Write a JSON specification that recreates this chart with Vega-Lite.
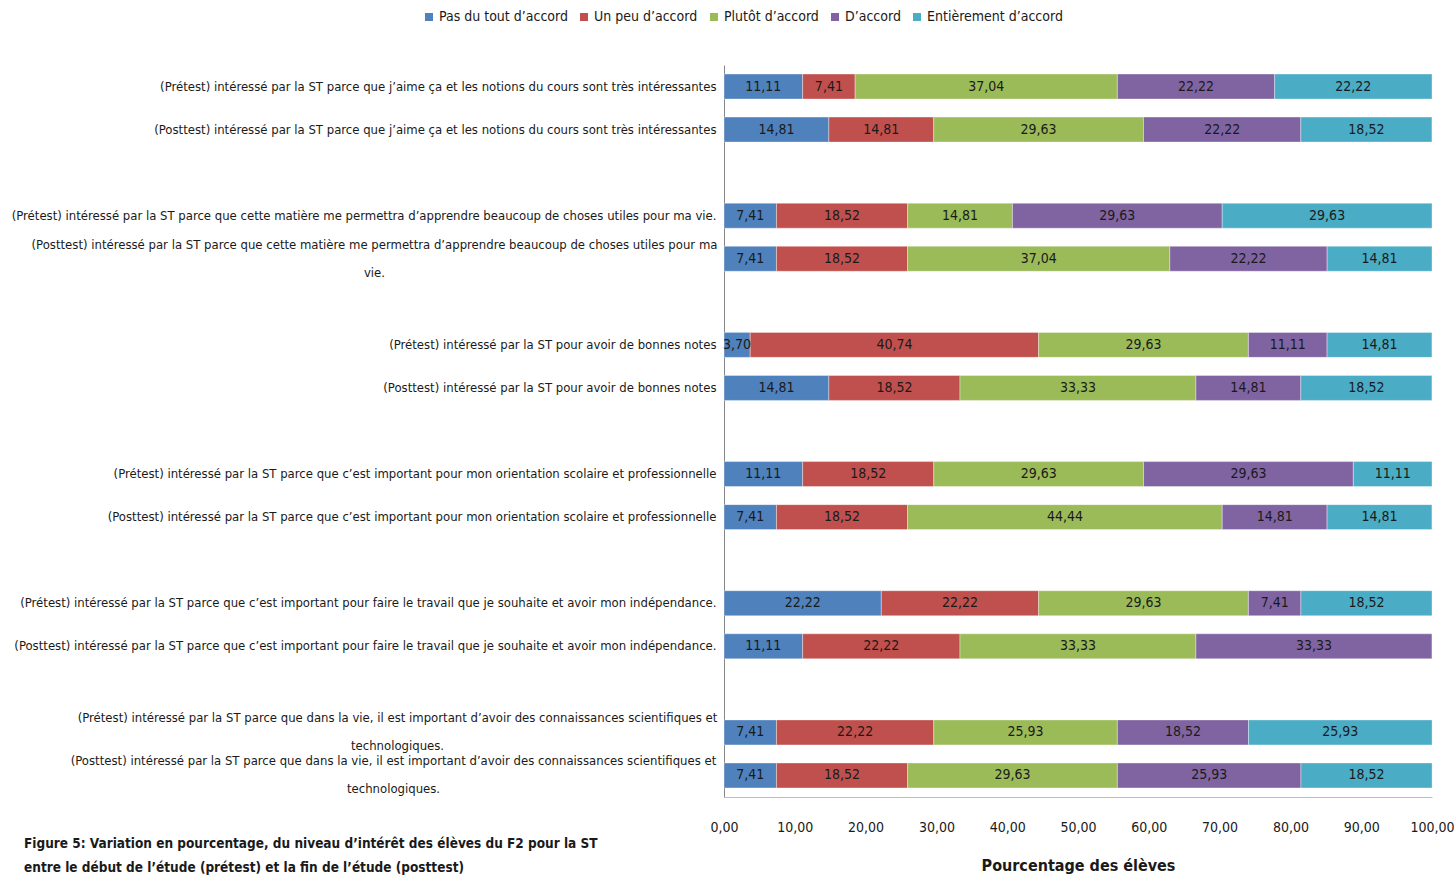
{
  "$schema": "https://vega.github.io/schema/vega-lite/v6.json",
  "width": 708,
  "height": 732,
  "autosize": {"type": "none"},
  "padding": {"left": 724, "top": 65, "right": 22, "bottom": 81},
  "background": "white",
  "title": {
    "text": ["Figure 5: Variation en pourcentage, du niveau d’intérêt des élèves du F2 pour la ST", "entre le début de l’étude (prétest) et la fin de l’étude (posttest)"],
    "orient": "bottom",
    "anchor": "start",
    "frame": "group",
    "dx": -700,
    "dy": -40,
    "font": "DejaVu Sans Condensed",
    "fontSize": 13.5,
    "fontWeight": "bold",
    "color": "#1a1a1a",
    "lineHeight": 24
  },
  "data": {
    "values": [
      {"q": "(Prétest) intéressé par la ST parce que j’aime ça et les notions du cours sont très intéressantes", "c": "Pas du tout d’accord", "n": 1, "v": 11.11},
      {"q": "(Prétest) intéressé par la ST parce que j’aime ça et les notions du cours sont très intéressantes", "c": "Un peu d’accord", "n": 2, "v": 7.41},
      {"q": "(Prétest) intéressé par la ST parce que j’aime ça et les notions du cours sont très intéressantes", "c": "Plutôt d’accord", "n": 3, "v": 37.04},
      {"q": "(Prétest) intéressé par la ST parce que j’aime ça et les notions du cours sont très intéressantes", "c": "D’accord", "n": 4, "v": 22.22},
      {"q": "(Prétest) intéressé par la ST parce que j’aime ça et les notions du cours sont très intéressantes", "c": "Entièrement d’accord", "n": 5, "v": 22.22},
      {"q": "(Posttest) intéressé par la ST parce que j’aime ça et les notions du cours sont très intéressantes", "c": "Pas du tout d’accord", "n": 1, "v": 14.81},
      {"q": "(Posttest) intéressé par la ST parce que j’aime ça et les notions du cours sont très intéressantes", "c": "Un peu d’accord", "n": 2, "v": 14.81},
      {"q": "(Posttest) intéressé par la ST parce que j’aime ça et les notions du cours sont très intéressantes", "c": "Plutôt d’accord", "n": 3, "v": 29.63},
      {"q": "(Posttest) intéressé par la ST parce que j’aime ça et les notions du cours sont très intéressantes", "c": "D’accord", "n": 4, "v": 22.22},
      {"q": "(Posttest) intéressé par la ST parce que j’aime ça et les notions du cours sont très intéressantes", "c": "Entièrement d’accord", "n": 5, "v": 18.52},
      {"q": "(Prétest) intéressé par la ST parce que cette matière me permettra d’apprendre beaucoup de choses utiles pour ma vie.", "c": "Pas du tout d’accord", "n": 1, "v": 7.41},
      {"q": "(Prétest) intéressé par la ST parce que cette matière me permettra d’apprendre beaucoup de choses utiles pour ma vie.", "c": "Un peu d’accord", "n": 2, "v": 18.52},
      {"q": "(Prétest) intéressé par la ST parce que cette matière me permettra d’apprendre beaucoup de choses utiles pour ma vie.", "c": "Plutôt d’accord", "n": 3, "v": 14.81},
      {"q": "(Prétest) intéressé par la ST parce que cette matière me permettra d’apprendre beaucoup de choses utiles pour ma vie.", "c": "D’accord", "n": 4, "v": 29.63},
      {"q": "(Prétest) intéressé par la ST parce que cette matière me permettra d’apprendre beaucoup de choses utiles pour ma vie.", "c": "Entièrement d’accord", "n": 5, "v": 29.63},
      {"q": "(Posttest) intéressé par la ST parce que cette matière me permettra d’apprendre beaucoup de choses utiles pour ma|vie.", "c": "Pas du tout d’accord", "n": 1, "v": 7.41},
      {"q": "(Posttest) intéressé par la ST parce que cette matière me permettra d’apprendre beaucoup de choses utiles pour ma|vie.", "c": "Un peu d’accord", "n": 2, "v": 18.52},
      {"q": "(Posttest) intéressé par la ST parce que cette matière me permettra d’apprendre beaucoup de choses utiles pour ma|vie.", "c": "Plutôt d’accord", "n": 3, "v": 37.04},
      {"q": "(Posttest) intéressé par la ST parce que cette matière me permettra d’apprendre beaucoup de choses utiles pour ma|vie.", "c": "D’accord", "n": 4, "v": 22.22},
      {"q": "(Posttest) intéressé par la ST parce que cette matière me permettra d’apprendre beaucoup de choses utiles pour ma|vie.", "c": "Entièrement d’accord", "n": 5, "v": 14.81},
      {"q": "(Prétest) intéressé par la ST pour avoir de bonnes notes", "c": "Pas du tout d’accord", "n": 1, "v": 3.70},
      {"q": "(Prétest) intéressé par la ST pour avoir de bonnes notes", "c": "Un peu d’accord", "n": 2, "v": 40.74},
      {"q": "(Prétest) intéressé par la ST pour avoir de bonnes notes", "c": "Plutôt d’accord", "n": 3, "v": 29.63},
      {"q": "(Prétest) intéressé par la ST pour avoir de bonnes notes", "c": "D’accord", "n": 4, "v": 11.11},
      {"q": "(Prétest) intéressé par la ST pour avoir de bonnes notes", "c": "Entièrement d’accord", "n": 5, "v": 14.81},
      {"q": "(Posttest) intéressé par la ST pour avoir de bonnes notes", "c": "Pas du tout d’accord", "n": 1, "v": 14.81},
      {"q": "(Posttest) intéressé par la ST pour avoir de bonnes notes", "c": "Un peu d’accord", "n": 2, "v": 18.52},
      {"q": "(Posttest) intéressé par la ST pour avoir de bonnes notes", "c": "Plutôt d’accord", "n": 3, "v": 33.33},
      {"q": "(Posttest) intéressé par la ST pour avoir de bonnes notes", "c": "D’accord", "n": 4, "v": 14.81},
      {"q": "(Posttest) intéressé par la ST pour avoir de bonnes notes", "c": "Entièrement d’accord", "n": 5, "v": 18.52},
      {"q": "(Prétest) intéressé par la ST parce que c’est important pour mon orientation scolaire et professionnelle", "c": "Pas du tout d’accord", "n": 1, "v": 11.11},
      {"q": "(Prétest) intéressé par la ST parce que c’est important pour mon orientation scolaire et professionnelle", "c": "Un peu d’accord", "n": 2, "v": 18.52},
      {"q": "(Prétest) intéressé par la ST parce que c’est important pour mon orientation scolaire et professionnelle", "c": "Plutôt d’accord", "n": 3, "v": 29.63},
      {"q": "(Prétest) intéressé par la ST parce que c’est important pour mon orientation scolaire et professionnelle", "c": "D’accord", "n": 4, "v": 29.63},
      {"q": "(Prétest) intéressé par la ST parce que c’est important pour mon orientation scolaire et professionnelle", "c": "Entièrement d’accord", "n": 5, "v": 11.11},
      {"q": "(Posttest) intéressé par la ST parce que c’est important pour mon orientation scolaire et professionnelle", "c": "Pas du tout d’accord", "n": 1, "v": 7.41},
      {"q": "(Posttest) intéressé par la ST parce que c’est important pour mon orientation scolaire et professionnelle", "c": "Un peu d’accord", "n": 2, "v": 18.52},
      {"q": "(Posttest) intéressé par la ST parce que c’est important pour mon orientation scolaire et professionnelle", "c": "Plutôt d’accord", "n": 3, "v": 44.44},
      {"q": "(Posttest) intéressé par la ST parce que c’est important pour mon orientation scolaire et professionnelle", "c": "D’accord", "n": 4, "v": 14.81},
      {"q": "(Posttest) intéressé par la ST parce que c’est important pour mon orientation scolaire et professionnelle", "c": "Entièrement d’accord", "n": 5, "v": 14.81},
      {"q": "(Prétest) intéressé par la ST parce que c’est important pour faire le travail que je souhaite et avoir mon indépendance.", "c": "Pas du tout d’accord", "n": 1, "v": 22.22},
      {"q": "(Prétest) intéressé par la ST parce que c’est important pour faire le travail que je souhaite et avoir mon indépendance.", "c": "Un peu d’accord", "n": 2, "v": 22.22},
      {"q": "(Prétest) intéressé par la ST parce que c’est important pour faire le travail que je souhaite et avoir mon indépendance.", "c": "Plutôt d’accord", "n": 3, "v": 29.63},
      {"q": "(Prétest) intéressé par la ST parce que c’est important pour faire le travail que je souhaite et avoir mon indépendance.", "c": "D’accord", "n": 4, "v": 7.41},
      {"q": "(Prétest) intéressé par la ST parce que c’est important pour faire le travail que je souhaite et avoir mon indépendance.", "c": "Entièrement d’accord", "n": 5, "v": 18.52},
      {"q": "(Posttest) intéressé par la ST parce que c’est important pour faire le travail que je souhaite et avoir mon indépendance.", "c": "Pas du tout d’accord", "n": 1, "v": 11.11},
      {"q": "(Posttest) intéressé par la ST parce que c’est important pour faire le travail que je souhaite et avoir mon indépendance.", "c": "Un peu d’accord", "n": 2, "v": 22.22},
      {"q": "(Posttest) intéressé par la ST parce que c’est important pour faire le travail que je souhaite et avoir mon indépendance.", "c": "Plutôt d’accord", "n": 3, "v": 33.33},
      {"q": "(Posttest) intéressé par la ST parce que c’est important pour faire le travail que je souhaite et avoir mon indépendance.", "c": "D’accord", "n": 4, "v": 33.33},
      {"q": "(Prétest) intéressé par la ST parce que dans la vie, il est important d’avoir des connaissances scientifiques et|technologiques.", "c": "Pas du tout d’accord", "n": 1, "v": 7.41},
      {"q": "(Prétest) intéressé par la ST parce que dans la vie, il est important d’avoir des connaissances scientifiques et|technologiques.", "c": "Un peu d’accord", "n": 2, "v": 22.22},
      {"q": "(Prétest) intéressé par la ST parce que dans la vie, il est important d’avoir des connaissances scientifiques et|technologiques.", "c": "Plutôt d’accord", "n": 3, "v": 25.93},
      {"q": "(Prétest) intéressé par la ST parce que dans la vie, il est important d’avoir des connaissances scientifiques et|technologiques.", "c": "D’accord", "n": 4, "v": 18.52},
      {"q": "(Prétest) intéressé par la ST parce que dans la vie, il est important d’avoir des connaissances scientifiques et|technologiques.", "c": "Entièrement d’accord", "n": 5, "v": 25.93},
      {"q": "(Posttest) intéressé par la ST parce que dans la vie, il est important d’avoir des connaissances scientifiques et|technologiques.", "c": "Pas du tout d’accord", "n": 1, "v": 7.41},
      {"q": "(Posttest) intéressé par la ST parce que dans la vie, il est important d’avoir des connaissances scientifiques et|technologiques.", "c": "Un peu d’accord", "n": 2, "v": 18.52},
      {"q": "(Posttest) intéressé par la ST parce que dans la vie, il est important d’avoir des connaissances scientifiques et|technologiques.", "c": "Plutôt d’accord", "n": 3, "v": 29.63},
      {"q": "(Posttest) intéressé par la ST parce que dans la vie, il est important d’avoir des connaissances scientifiques et|technologiques.", "c": "D’accord", "n": 4, "v": 25.93},
      {"q": "(Posttest) intéressé par la ST parce que dans la vie, il est important d’avoir des connaissances scientifiques et|technologiques.", "c": "Entièrement d’accord", "n": 5, "v": 18.52}
    ]
  },
  "encoding": {
    "y": {
      "field": "q",
      "type": "nominal",
      "title": null,
      "scale": {
        "domain": [
          "(Prétest) intéressé par la ST parce que j’aime ça et les notions du cours sont très intéressantes",
          "(Posttest) intéressé par la ST parce que j’aime ça et les notions du cours sont très intéressantes",
          "_1",
          "(Prétest) intéressé par la ST parce que cette matière me permettra d’apprendre beaucoup de choses utiles pour ma vie.",
          "(Posttest) intéressé par la ST parce que cette matière me permettra d’apprendre beaucoup de choses utiles pour ma|vie.",
          "_2",
          "(Prétest) intéressé par la ST pour avoir de bonnes notes",
          "(Posttest) intéressé par la ST pour avoir de bonnes notes",
          "_3",
          "(Prétest) intéressé par la ST parce que c’est important pour mon orientation scolaire et professionnelle",
          "(Posttest) intéressé par la ST parce que c’est important pour mon orientation scolaire et professionnelle",
          "_4",
          "(Prétest) intéressé par la ST parce que c’est important pour faire le travail que je souhaite et avoir mon indépendance.",
          "(Posttest) intéressé par la ST parce que c’est important pour faire le travail que je souhaite et avoir mon indépendance.",
          "_5",
          "(Prétest) intéressé par la ST parce que dans la vie, il est important d’avoir des connaissances scientifiques et|technologiques.",
          "(Posttest) intéressé par la ST parce que dans la vie, il est important d’avoir des connaissances scientifiques et|technologiques."
        ],
        "paddingInner": 0.42,
        "paddingOuter": 0.21
      },
      "axis": {
        "labelExpr": "indexof(datum.value, '_') == 0 ? '' : split(datum.value, '|')",
        "labelFont": "DejaVu Sans Condensed",
        "labelFontSize": 13,
        "labelColor": "#1a1a1a",
        "labelLimit": 0,
        "labelBaseline": "middle",
        "labelAlign": {"condition": {"test": "indexof(datum.value, '|') >= 0", "value": "center"}, "value": "right"},
        "labelOffset": {"condition": {"test": "indexof(datum.value, '|') >= 0", "value": -14}, "value": 0},
        "labelPadding": {"condition": [
          {"test": "indexof(datum.value, 'ma|vie') >= 0", "value": 350},
          {"test": "indexof(datum.value, '(Prétest) intéressé par la ST parce que dans') == 0", "value": 327},
          {"test": "indexof(datum.value, '(Posttest) intéressé par la ST parce que dans') == 0", "value": 331}
        ], "value": 8},
        "labelLineHeight": 28,
        "ticks": false,
        "domainColor": "#868686",
        "domainWidth": 1
      }
    }
  },
  "layer": [
    {
      "mark": {"type": "bar", "stroke": "white", "strokeWidth": 0.6, "strokeOpacity": 0.6},
      "encoding": {
        "x": {
          "field": "v",
          "type": "quantitative",
          "stack": "zero",
          "scale": {"domain": [0, 100], "nice": false},
          "title": "Pourcentage des élèves",
          "axis": {
            "values": [0, 10, 20, 30, 40, 50, 60, 70, 80, 90, 100],
            "format": ".2f",
            "grid": false,
            "ticks": false,
            "domainColor": "#bfbfbf",
            "labelFont": "DejaVu Sans Condensed",
            "labelFontSize": 14,
            "labelColor": "#1a1a1a",
            "labelPadding": 23,
            "labelFlush": false,
            "titleFont": "DejaVu Sans Condensed",
            "titleFontSize": 16,
            "titleFontWeight": "bold",
            "titleColor": "#1a1a1a",
            "titlePadding": 23
          }
        },
        "color": {
          "field": "c",
          "type": "nominal",
          "scale": {
            "domain": ["Pas du tout d’accord", "Un peu d’accord", "Plutôt d’accord", "D’accord", "Entièrement d’accord"],
            "range": ["#4F81BD", "#C0504D", "#9BBB59", "#8064A2", "#4BACC6"]
          },
          "legend": {
            "title": null,
            "orient": "none",
            "direction": "horizontal",
            "legendX": -302,
            "legendY": -55,
            "symbolType": "square",
            "symbolSize": 64,
            "symbolStrokeWidth": 0,
            "labelFont": "DejaVu Sans Condensed",
            "labelFontSize": 14,
            "labelColor": "#1a1a1a",
            "labelOffset": 3,
            "columnPadding": 9,
            "labelLimit": 0
          }
        },
        "order": {"field": "n", "type": "quantitative"}
      }
    },
    {
      "mark": {"type": "text", "font": "DejaVu Sans Condensed", "fontSize": 14, "color": "#1a1a1a", "baseline": "middle"},
      "encoding": {
        "x": {"field": "v", "type": "quantitative", "stack": "zero", "bandPosition": 0.5},
        "detail": {"field": "c", "type": "nominal"},
        "order": {"field": "n", "type": "quantitative"},
        "text": {"field": "v", "type": "quantitative", "format": ".2f"}
      }
    }
  ],
  "config": {
    "view": {"stroke": null},
    "locale": {"number": {"decimal": ",", "thousands": " ", "grouping": [3], "currency": ["", " €"]}}
  }
}
